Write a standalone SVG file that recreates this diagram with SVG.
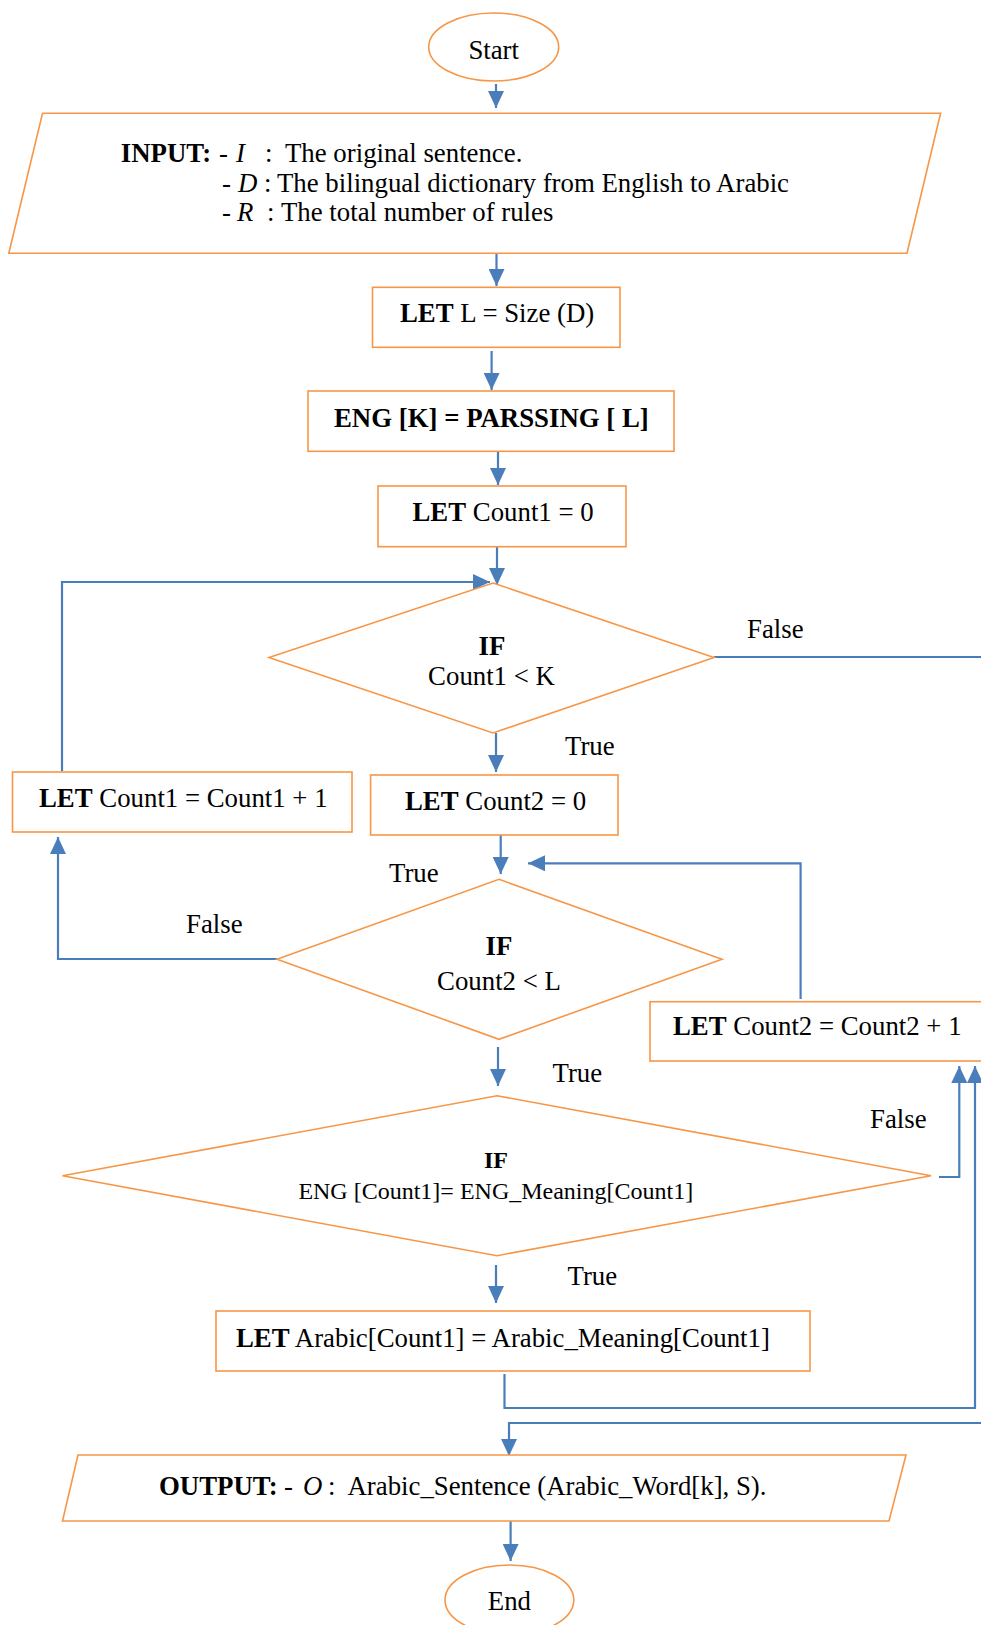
<svg xmlns="http://www.w3.org/2000/svg" width="981" height="1625" viewBox="0 0 981 1625">
  <defs>
    <marker id="arrow" markerUnits="userSpaceOnUse" markerWidth="18" markerHeight="16" refX="17" refY="8" orient="auto">
      <path d="M0,0 L17,8 L0,16 Z" fill="#4A7EBB"/>
    </marker>
    <style>
      .shape { fill: #ffffff; stroke: #F79646; stroke-width: 1.6; }
      .link { fill: none; stroke: #4A7EBB; stroke-width: 2.2; }
      .arr { marker-end: url(#arrow); }
      text { font-family: "Liberation Serif", "Times New Roman", serif; font-size: 26.8px; fill: #000000; }
      .b { font-weight: bold; }
      .i { font-style: italic; }
      .mid { text-anchor: middle; }
      .small { font-size: 24px; }
    </style>
  </defs>

  <rect x="0" y="0" width="981" height="1625" fill="#ffffff"/>

  <!-- connectors -->
  <g id="connectors">
    <path class="link arr" d="M496,84 V108"/>
    <path class="link arr" d="M496.5,253 V286"/>
    <path class="link arr" d="M491.6,351 V390"/>
    <path class="link arr" d="M498,452 V485"/>
    <path class="link arr" d="M497,547 V585"/>
    <!-- outer loop: Count1 + 1 back to the first test -->
    <path class="link arr" d="M62,771 V582 H490"/>
    <!-- first test false: round the right side to the output -->
    <path class="link arr" d="M714,657 H1000 V1423 H509 V1456"/>
    <path class="link arr" d="M496,733 V772"/>
    <path class="link arr" d="M500.7,835 V874"/>
    <!-- inner loop: Count2 + 1 back to the second test -->
    <path class="link arr" d="M800.6,999 V863.3 H528"/>
    <!-- second test false: to Count1 + 1 -->
    <path class="link arr" d="M277,959 H58 V837"/>
    <path class="link arr" d="M498,1047 V1086"/>
    <!-- third test false: up to Count2 + 1 -->
    <path class="link arr" d="M939,1177 H959.3 V1066"/>
    <path class="link arr" d="M496,1265 V1303"/>
    <!-- after the assignment: up to Count2 + 1 -->
    <path class="link arr" d="M504.5,1374 V1408 H975 V1066"/>
    <path class="link arr" d="M510.6,1521 V1561"/>
  </g>

  <g id="start">
    <ellipse class="shape" cx="493.7" cy="47" rx="65" ry="34"/>
    <text class="mid" x="493.7" y="59">Start</text>
  </g>

  <g id="input">
    <polygon class="shape" points="42.5,113.3 940.6,113.3 907,253.3 8.8,253.3"/>
    <text y="161.5"><tspan class="b" x="120.8">INPUT:</tspan><tspan x="219">-</tspan><tspan class="i" x="236">I</tspan><tspan x="265">:</tspan><tspan x="285">The original sentence.</tspan></text>
    <text y="191.5"><tspan x="222">-</tspan><tspan class="i" x="238">D</tspan><tspan x="264">:</tspan><tspan x="277">The bilingual dictionary from English to Arabic</tspan></text>
    <text y="221"><tspan x="222">-</tspan><tspan class="i" x="237">R</tspan><tspan x="267">:</tspan><tspan x="281">The total number of rules</tspan></text>
  </g>

  <g id="let-l">
    <rect class="shape" x="372.5" y="287.3" width="247.5" height="60"/>
    <text x="400" y="321.5"><tspan class="b">LET</tspan> L = Size (D)</text>
  </g>

  <g id="parsing">
    <rect class="shape" x="308" y="391" width="366" height="60.3"/>
    <text class="b" x="334" y="426.7">ENG [K] = PARSSING [ L]</text>
  </g>

  <g id="count1-init">
    <rect class="shape" x="378" y="486" width="248" height="60.7"/>
    <text x="412.5" y="520.7"><tspan class="b">LET</tspan> Count1 = 0</text>
  </g>

  <g id="test-count1">
    <polygon class="shape" points="493,583 714,657.5 493,733 269,657.5"/>
    <text class="mid b" x="492" y="655">IF</text>
    <text class="mid" x="491.5" y="685">Count1 &lt; K</text>
  </g>
  <text x="747" y="638">False</text>
  <text x="565" y="755">True</text>

  <g id="count1-inc">
    <rect class="shape" x="12.5" y="772" width="339.5" height="60"/>
    <text x="39" y="806.7"><tspan class="b">LET</tspan> Count1 = Count1 + 1</text>
  </g>

  <g id="count2-init">
    <rect class="shape" x="370.6" y="775" width="247.4" height="60"/>
    <text x="405" y="810"><tspan class="b">LET</tspan> Count2 = 0</text>
  </g>

  <text x="389" y="881.7">True</text>
  <text x="186" y="933">False</text>

  <g id="test-count2">
    <polygon class="shape" points="499,879.3 722,959.3 499,1039.3 277,959.3"/>
    <text class="mid b" x="499" y="955">IF</text>
    <text class="mid" x="499" y="990">Count2 &lt; L</text>
  </g>

  <g id="count2-inc">
    <rect class="shape" x="650" y="1001.7" width="360" height="59.3"/>
    <text x="673" y="1035"><tspan class="b">LET</tspan> Count2 = Count2 + 1</text>
  </g>

  <text x="552.5" y="1081.7">True</text>
  <text x="870" y="1128">False</text>

  <g id="test-meaning">
    <polygon class="shape" points="497,1095.7 931,1175.7 497,1255.7 62.5,1175.7"/>
    <text class="mid b small" x="496" y="1168">IF</text>
    <text class="mid small" x="495.8" y="1199">ENG [Count1]= ENG_Meaning[Count1]</text>
  </g>

  <text x="567.5" y="1285">True</text>

  <g id="assign-arabic">
    <rect class="shape" x="216" y="1311" width="594" height="60"/>
    <text x="236" y="1346.7"><tspan class="b">LET</tspan> Arabic[Count1] = Arabic_Meaning[Count1]</text>
  </g>

  <g id="output">
    <polygon class="shape" points="78,1455 906,1455 889,1521 62.5,1521"/>
    <text y="1495"><tspan class="b" x="159">OUTPUT:</tspan><tspan x="284">-</tspan><tspan class="i" x="303">O</tspan><tspan x="328">:</tspan><tspan x="347.5">Arabic_Sentence (Arabic_Word[k], S).</tspan></text>
  </g>

  <g id="end">
    <ellipse class="shape" cx="509.4" cy="1600" rx="64.4" ry="35"/>
    <text class="mid" x="509.4" y="1610">End</text>
  </g>
</svg>
